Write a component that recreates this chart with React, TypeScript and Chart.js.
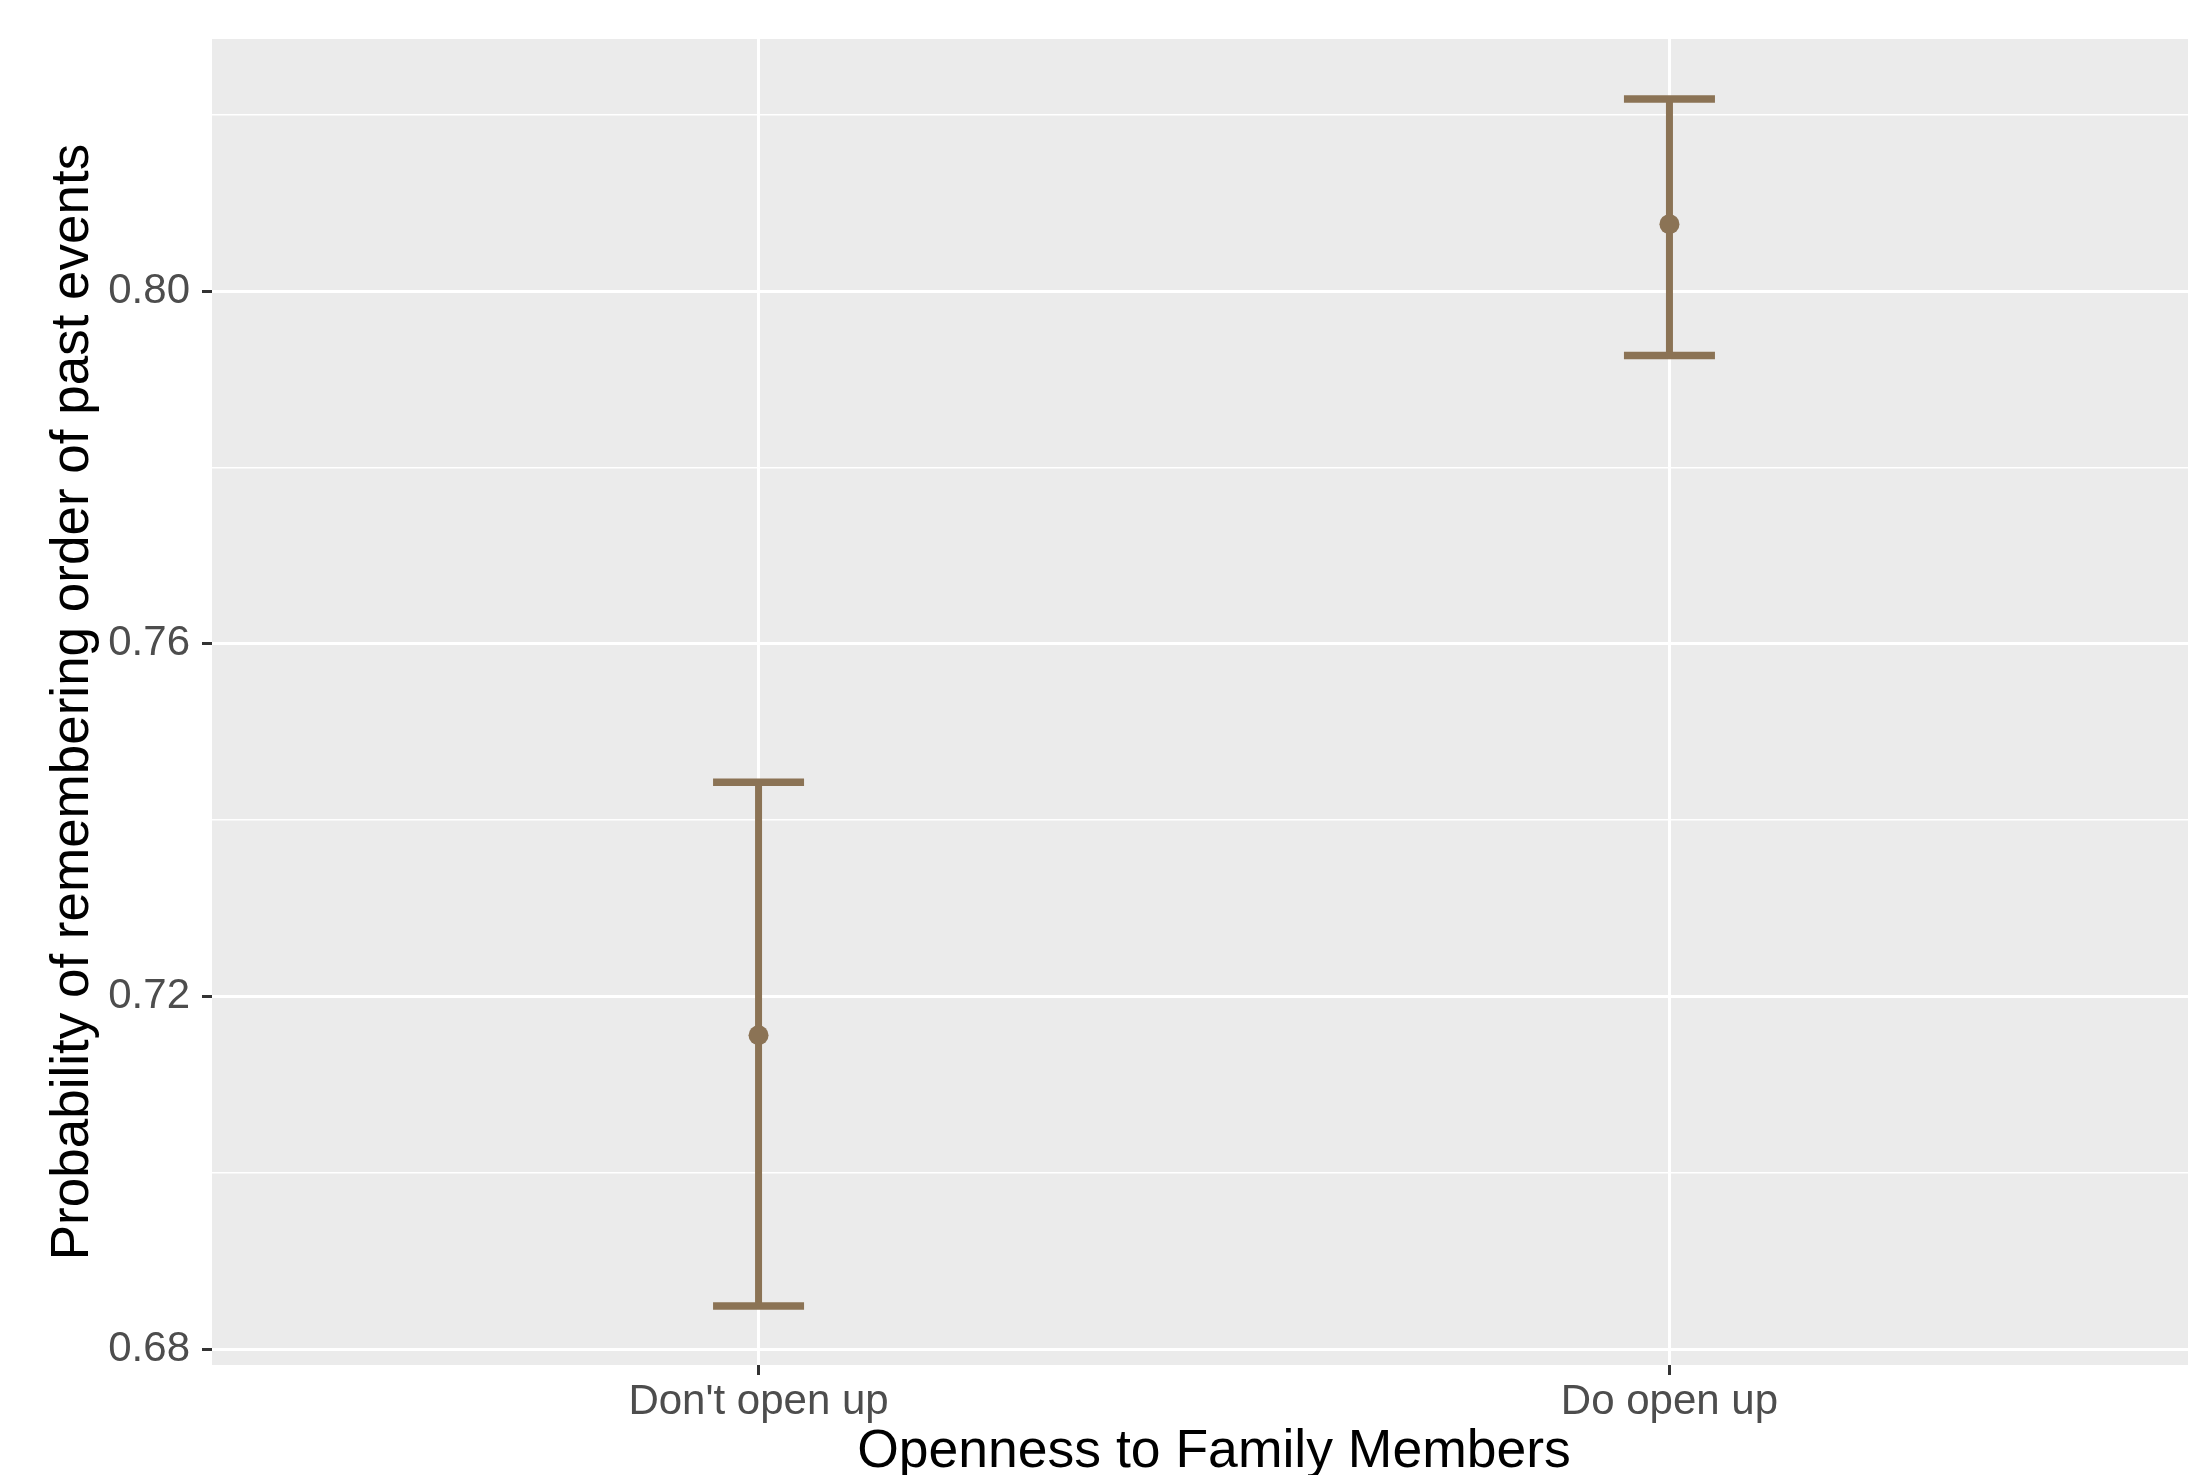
import React, { useEffect, useRef } from "react";
import { Chart, registerables } from "chart.js";

Chart.register(...registerables);

// ---- data ----
const CATEGORIES = ["Don't open up", "Do open up"];
const CATEGORY_POS = [1, 2];
const MEANS = [0.7156, 0.8076];
const LOWER = [0.6849, 0.7927];
const UPPER = [0.7443, 0.8218];
const Y_MAJOR = [0.68, 0.72, 0.76, 0.8];
const Y_MINOR = [0.7, 0.74, 0.78, 0.82];
const Y_LABELS = ["0.68", "0.72", "0.76", "0.80"];

const X_TITLE = "Openness to Family Members";
const Y_TITLE = "Probability of remembering order of past events";

const COLOR = "#8B7355";
const FONT = "'Liberation Sans', Arial, Helvetica, sans-serif";

const majorIndex = (v: number) => Y_MAJOR.findIndex((m) => Math.abs(m - v) < 1e-9);

const panelBg = {
  id: "panelBg",
  beforeDraw(chart: any) {
    const { ctx, chartArea } = chart;
    ctx.save();
    ctx.fillStyle = "#EBEBEB";
    ctx.fillRect(chartArea.left, chartArea.top, chartArea.right - chartArea.left, chartArea.bottom - chartArea.top);
    ctx.restore();
  },
};

const zeroPad = (s: any) => {
  s.paddingTop = 0;
  s.paddingBottom = 0;
  s.paddingLeft = 0;
  s.paddingRight = 0;
};

export default function App() {
  const ref = useRef<HTMLCanvasElement | null>(null);

  useEffect(() => {
    document.body.style.overflow = "hidden";
    const canvas = ref.current;
    if (!canvas) return;

    const barDatasets = CATEGORY_POS.map((x, i) => ({
      type: "line" as const,
      label: "bar" + i,
      data: [
        { x, y: LOWER[i] },
        { x, y: UPPER[i] },
      ],
      borderColor: COLOR,
      borderWidth: 7,
      borderCapStyle: "butt",
      pointRadius: 0,
      showLine: true,
      order: 3,
    }));

    const capData = CATEGORY_POS.flatMap((x, i) => [
      { x, y: LOWER[i] },
      { x, y: UPPER[i] },
    ]);

    const chart = new Chart(canvas, {
      type: "scatter",
      data: {
        datasets: [
          {
            label: "mean",
            data: CATEGORY_POS.map((x, i) => ({ x, y: MEANS[i] })),
            backgroundColor: COLOR,
            borderColor: COLOR,
            borderWidth: 0,
            pointRadius: 10,
            pointHoverRadius: 10,
            order: 1,
          },
          {
            label: "caps",
            data: capData,
            pointStyle: "line",
            pointRadius: 45.5,
            pointHoverRadius: 45.5,
            borderColor: COLOR,
            backgroundColor: COLOR,
            pointBorderWidth: 7.5,
            borderWidth: 7.5,
            order: 2,
          },
          ...barDatasets,
        ] as any,
      },
      plugins: [panelBg],
      options: {
        animation: false,
        responsive: false,
        devicePixelRatio: 1,
        events: [],
        layout: { autoPadding: false, padding: { left: 0, right: 4, top: 39, bottom: 0 } },
        plugins: {
          legend: { display: false },
          tooltip: { enabled: false },
        },
        scales: {
          x: {
            type: "linear",
            min: 0.4,
            max: 2.6,
            afterBuildTicks: (s: any) => {
              s.ticks = CATEGORY_POS.map((v) => ({ value: v }));
            },
            afterFit: (s: any) => {
              s.height = 135;
              zeroPad(s);
            },
            border: { display: false },
            grid: {
              color: "#FFFFFF",
              lineWidth: 3,
              tickColor: "#333333",
              tickWidth: 3,
              tickLength: 10,
            },
            ticks: {
              autoSkip: false,
              maxRotation: 0,
              minRotation: 0,
              padding: 2,
              color: "#4D4D4D",
              font: { family: FONT, size: 42, lineHeight: 1.2 },
              callback: (v: any) => {
                const i = CATEGORY_POS.indexOf(Number(v));
                return i >= 0 ? CATEGORIES[i] : "";
              },
            },
            title: {
              display: true,
              text: X_TITLE,
              color: "#000000",
              font: { family: FONT, size: 53.5, lineHeight: 1.2 },
              padding: { top: 0, bottom: 16 },
            },
          },
          y: {
            type: "linear",
            min: 0.6782,
            max: 0.8286,
            afterBuildTicks: (s: any) => {
              s.ticks = [...Y_MAJOR, ...Y_MINOR].sort((a, b) => a - b).map((v) => ({ value: v }));
            },
            afterFit: (s: any) => {
              s.width = 212;
              zeroPad(s);
            },
            border: { display: false },
            grid: {
              color: "#FFFFFF",
              lineWidth: (c: any) => (c.tick && majorIndex(c.tick.value) >= 0 ? 3 : 1.5),
              tickColor: (c: any) => (c.tick && majorIndex(c.tick.value) >= 0 ? "#333333" : "rgba(0,0,0,0)"),
              tickWidth: 3,
              tickLength: 10,
            },
            ticks: {
              autoSkip: false,
              padding: 12,
              color: "#4D4D4D",
              font: { family: FONT, size: 42, lineHeight: 1.2 },
              callback: (v: any) => {
                const i = majorIndex(Number(v));
                return i >= 0 ? Y_LABELS[i] : "";
              },
            },
            title: {
              display: true,
              text: Y_TITLE,
              color: "#000000",
              font: { family: FONT, size: 53, lineHeight: 1.2 },
              padding: { top: 42, bottom: 0 },
            },
          },
        },
      } as any,
    });

    return () => chart.destroy();
  }, []);

  return (
    <div style={{ position: "fixed", left: 0, top: 0, width: 2220, height: 1500, background: "#FFFFFF" }}>
      <canvas ref={ref} width={2220} height={1500} style={{ width: 2220, height: 1500, display: "block" }} />
    </div>
  );
}
